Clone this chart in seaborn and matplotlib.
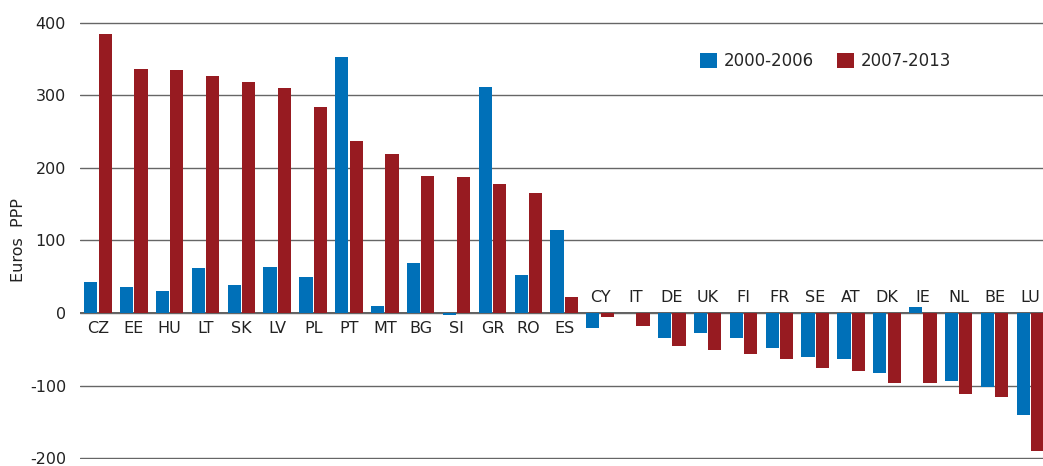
import pandas as pd
import matplotlib.pyplot as plt
import seaborn as sns
import numpy as np

# Datos (Euros PPP)
paises = ['CZ', 'EE', 'HU', 'LT', 'SK', 'LV', 'PL', 'PT', 'MT', 'BG', 'SI', 'GR', 'RO', 'ES',
          'CY', 'IT', 'DE', 'UK', 'FI', 'FR', 'SE', 'AT', 'DK', 'IE', 'NL', 'BE', 'LU']
periodo_1 = [43, 36, 30, 62, 39, 64, 49, 352, 10, 69, -3, 312, 53, 114,
             -20, 0, -35, -27, -35, -48, -61, -63, -83, 9, -94, -102, -141]
periodo_2 = [384, 336, 335, 327, 318, 310, 284, 237, 219, 189, 187, 178, 165, 22,
             -5, -18, -46, -51, -57, -63, -76, -80, -96, -96, -111, -115, -190]
periodos = ['2000-2006', '2007-2013']
colores = ['#0070b8', '#971b21']

df = pd.DataFrame({
    'pais': paises * 2,
    'periodo': [periodos[0]] * len(paises) + [periodos[1]] * len(paises),
    'valor': periodo_1 + periodo_2,
})

sns.set_style('white')
plt.rcParams['font.family'] = ['DejaVu Sans']
plt.rcParams['font.size'] = 11

fig = plt.figure(figsize=(10.43, 4.66), dpi=100)
ax = fig.add_axes([0.0767, 0.015, 0.9233, 0.938])

sns.barplot(data=df, x='pais', y='valor', hue='periodo', order=paises,
            hue_order=periodos, palette=colores, width=0.8, gap=0.08,
            saturation=1, linewidth=0, ax=ax)

ax.set_ylim(-201, 401)
ax.set_xlim(-0.5, 26.35)
ax.set_yticks([-200, -100, 0, 100, 200, 300, 400])
ax.set_yticklabels(['-200', '-100', '0', '100', '200', '300', '400'])
ax.grid(axis='y', color='#666666', linewidth=1.0)
ax.set_axisbelow(True)
ax.axhline(0, color='#333333', linewidth=1.1, zorder=0.5)
for s in ax.spines.values():
    s.set_visible(False)
ax.tick_params(axis='y', length=0, pad=10, labelsize=11.5, colors='#222222')
ax.set_xticks([])
ax.set_xlabel('')
ax.set_ylabel('Euros  PPP', fontsize=11.5, color='#222222', labelpad=3)

# Etiquetas de paises junto a la linea de cero
for i, p in enumerate(paises):
    if periodo_2[i] >= 0:
        ax.annotate(p, xy=(i, 0), xytext=(0, -6), textcoords='offset points',
                    ha='center', va='top', fontsize=11.5, color='#222222')
    else:
        ax.annotate(p, xy=(i, 0), xytext=(0, 6), textcoords='offset points',
                    ha='center', va='bottom', fontsize=11.5, color='#222222')

handles, labels = ax.get_legend_handles_labels()
ax.legend(handles, labels, ncol=2, frameon=False, loc='center left',
          bbox_to_anchor=(0.644, 0.91), borderaxespad=0, borderpad=0,
          handlelength=1.0, handleheight=1.0, handletextpad=0.4,
          columnspacing=1.4, fontsize=12)

plt.savefig('out.png', dpi=100)
